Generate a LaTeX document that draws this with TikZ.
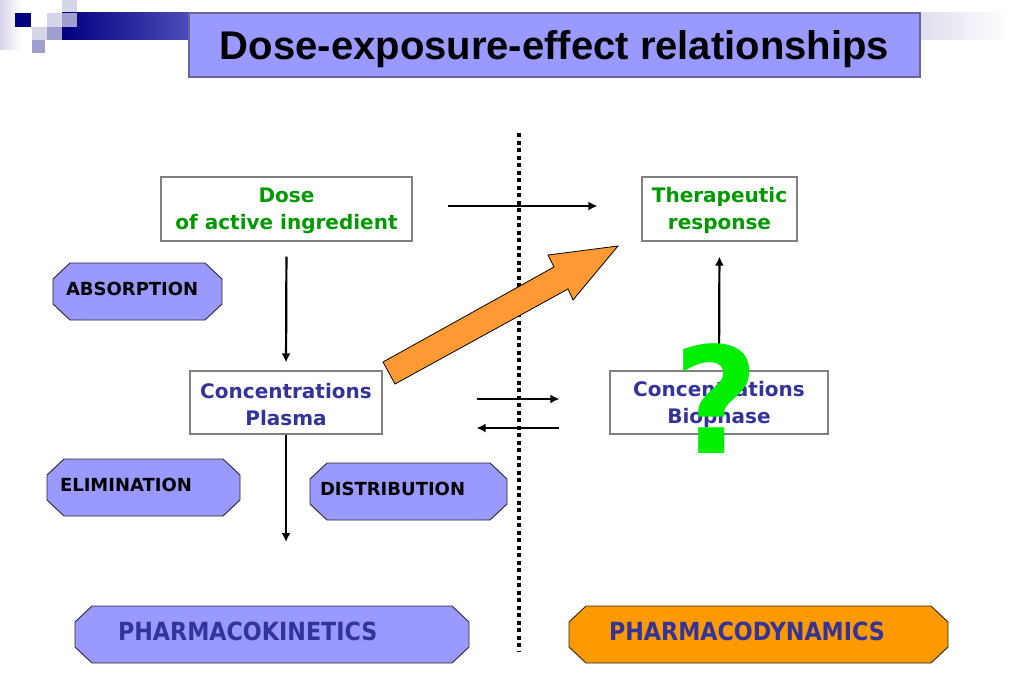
\documentclass[tikz,border=0pt]{standalone}
\usepackage{fontspec}
\setmainfont{DejaVu Sans}
\newfontfamily\titlefont{Liberation Sans}
\newfontfamily\phasefont[FakeStretch=0.89]{DejaVu Sans}
\usetikzlibrary{arrows.meta}

\definecolor{lilac}{HTML}{9999FF}
\definecolor{lilacline}{HTML}{666699}
\definecolor{dosegreen}{HTML}{009900}
\definecolor{concblue}{HTML}{333399}
\definecolor{bigarrow}{HTML}{FF9933}
\definecolor{pdorange}{HTML}{FF9900}
\definecolor{qgreen}{HTML}{00EE00}
\definecolor{deconavy}{HTML}{000080}
\definecolor{decolight}{HTML}{D6D6EB}
\definecolor{decomid}{HTML}{9F9FCF}

\tikzset{
	box/.style={draw=gray, fill=white, line width=1.2pt, align=center,
		font=\bfseries\fontsize{20}{27}\selectfont, inner sep=0pt},
	tag/.style={minimum height=59pt, inner ysep=0pt, inner xsep=14pt, text depth=5pt,
		align=left, font=\bfseries\fontsize{18}{22}\selectfont,
		path picture={\filldraw[fill=#1, draw=black!85, line width=0.9pt]
			([shift={(18pt,-1pt)}]path picture bounding box.north west) --
			([shift={(-18pt,-1pt)}]path picture bounding box.north east) --
			([shift={(-1pt,-17pt)}]path picture bounding box.north east) --
			([shift={(-1pt,17pt)}]path picture bounding box.south east) --
			([shift={(-18pt,1pt)}]path picture bounding box.south east) --
			([shift={(18pt,1pt)}]path picture bounding box.south west) --
			([shift={(1pt,17pt)}]path picture bounding box.south west) --
			([shift={(1pt,-17pt)}]path picture bounding box.north west) -- cycle;}},
	tag/.default=lilac,
	phase/.style={tag=#1, text=concblue, text depth=7pt,
		font=\phasefont\bfseries\fontsize{25}{30}\selectfont},
	arr/.style={-{Latex[length=9pt,width=9pt]}, line width=2.2pt},
}

\begin{document}
\begin{tikzpicture}[x=1pt,y=-1pt]
	\useasboundingbox (0,0) rectangle (1024,682);

	% corner decoration
	\shade[left color=decolight, right color=white] (0,0) rectangle (22,50);
	\fill[decolight] (62,0) rectangle (77,13);
	\shade[left color=deconavy, right color=deconavy!80!blue!70!white] (62,13) rectangle (190,40);
	\fill[deconavy] (15,13) rectangle (31,27);
	\fill[decolight] (47,13) rectangle (62,27);
	\fill[decomid] (62,13) rectangle (77,27);
	\fill[decolight] (32,27) rectangle (47,40);
	\fill[decomid] (47,27) rectangle (62,40);
	\fill[decomid] (32,40) rectangle (45,53);
	\shade[left color=decolight!80!white, right color=white] (920,13) rectangle (1010,40);

	% title
	\node[draw=lilacline, fill=lilac, line width=1.5pt, minimum width=731pt, minimum height=64pt, text depth=0pt,
		font=\titlefont\bfseries\fontsize{40}{44}\selectfont] (title) at (554.5,45) {Dose-exposure-effect relationships};

	% divider
	\coordinate (divtop) at (519,133);
	\coordinate (divbot) at (519,652);
	\draw[line width=4pt, dash pattern=on 4pt off 3.5pt] (divtop) -- (divbot);

	% boxes
	\node[box, text=dosegreen, minimum width=251pt, minimum height=64pt] (dose) at (286.5,209) {\strut Dose\\of active ingredient};
	\node[box, text=dosegreen, minimum width=155pt, minimum height=64pt] (ther) at (719.5,209) {\strut Therapeutic\\response};
	\node[box, text=concblue, minimum width=192pt, minimum height=63pt] (plasma) at (286,402.5) {\strut Concentrations\\Plasma};
	\node[box, text=concblue, minimum width=218pt, minimum height=63pt] (bio) at (719,402.5) {\strut Concentrations\\Biophase};

	% processes
	\node[tag, minimum width=171pt, text width=143pt] (absorp) at (137.5,291.5) {ABSORPTION};
	\node[tag, minimum width=195pt, text width=167pt] (elim) at (143.5,487.5) {ELIMINATION};
	\node[tag, inner xsep=11pt, minimum width=199pt, text width=177pt] (distrib) at (408.5,491.5) {DISTRIBUTION};

	% connectors
	\coordinate (out) at (286,542);
	\draw[arr, shorten <=35pt, shorten >=44pt] ([yshift=3pt]dose.east) -- ([yshift=3pt]ther.west);
	\draw[arr, shorten <=15pt, shorten >=8pt] (dose.south) -- (plasma.north);
	\draw[arr] (plasma.south) -- (out);
	\draw[arr, shorten <=94pt, shorten >=50pt] ([yshift=3.5pt]plasma.east) -- ([yshift=3.5pt]bio.west);
	\draw[arr, shorten <=50pt, shorten >=94pt] ([yshift=-25.5pt]bio.west) -- ([yshift=-25.5pt]plasma.east);
	\draw[arr, shorten <=6pt, shorten >=15pt] (bio.north) -- (ther.south);

	% block arrow
	\filldraw[fill=bigarrow, draw=black, line width=0.8pt]
		(383,362) -- (554,267) -- (548,255) -- (618,246) -- (573,300) -- (568,289) -- (395,384) -- cycle;

	\node[text=qgreen, font=\bfseries\fontsize{148}{148}\selectfont, inner sep=0pt] (query) at (716,399) {?};

	% phases
	\node[phase=lilac, inner xsep=44pt, minimum width=396pt, text width=308pt] (pk) at (272,634.5) {PHARMACOKINETICS};
	\node[phase=pdorange, inner xsep=41pt, minimum width=381pt, text width=299pt] (pd) at (758.5,634.5) {PHARMACODYNAMICS};
\end{tikzpicture}
\end{document}
